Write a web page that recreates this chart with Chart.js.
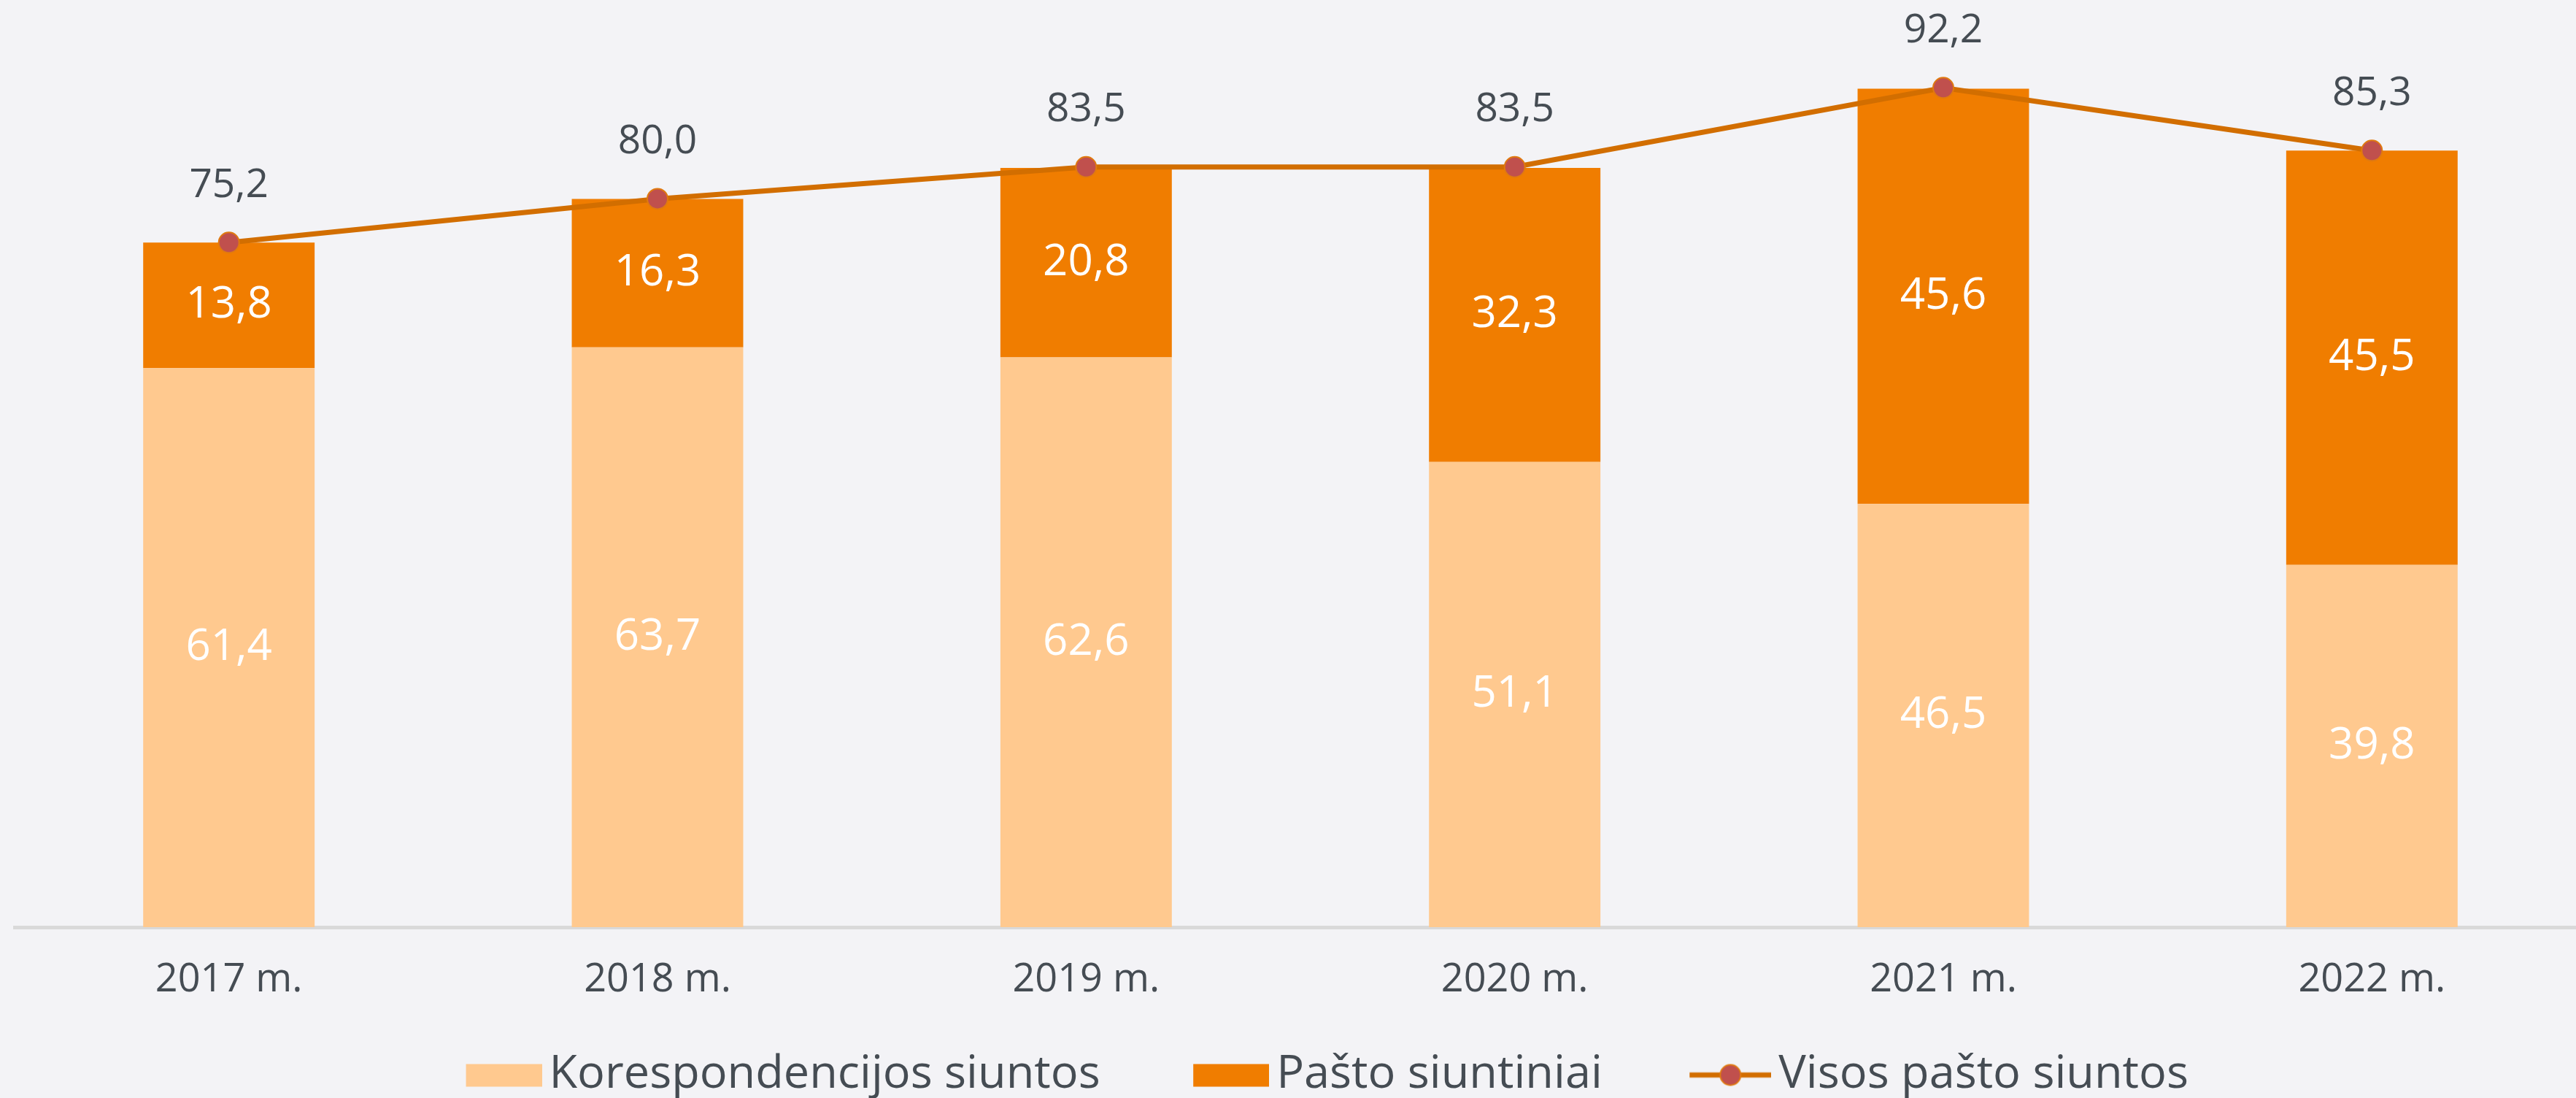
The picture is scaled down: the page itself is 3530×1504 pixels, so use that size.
<!DOCTYPE html>
<html>
<head>
<meta charset="utf-8">
<script src="https://cdn.jsdelivr.net/npm/chart.js@4"></script>
<style>
  html, body { margin: 0; padding: 0; background: #f3f3f6; overflow: hidden; }
  canvas { display: block; }
</style>
</head>
<body>
<canvas id="siuntosChart" width="3560" height="1504"></canvas>
<script>
const years = ['2017 m.', '2018 m.', '2019 m.', '2020 m.', '2021 m.', '2022 m.'];
const korespondencija = [61.4, 63.7, 62.6, 51.1, 46.5, 39.8];
const siuntiniai = [13.8, 16.3, 20.8, 32.3, 45.6, 45.5];
const visos = [75.2, 80.0, 83.5, 83.5, 92.2, 85.3];
const seriesNames = ['Korespondencijos siuntos', 'Pašto siuntiniai', 'Visos pašto siuntos'];

const lightOrange = '#ffc98f';
const darkOrange = '#f07d00';
const lineColor = '#d26e00';
const pointFill = '#c0504d';
const pointEdge = '#e07a10';
const textColor = '#454c53';

Chart.defaults.font.family = '"Open Sans", "Noto Sans", sans-serif';

const fmt = v => v.toFixed(1).replace('.', ',');

// legend icons: wider than the box, drawn at the right so they sit close to the text
const ICON_W = 185, ICON_H = 34;
function makeIcon(kind, color) {
  const cv = document.createElement('canvas');
  cv.width = ICON_W;
  cv.height = ICON_H;
  const c = cv.getContext('2d');
  if (kind === 'line') {
    const x0 = ICON_W - 112;
    c.strokeStyle = lineColor;
    c.lineWidth = 7;
    c.beginPath();
    c.moveTo(x0, 17);
    c.lineTo(ICON_W, 17);
    c.stroke();
    c.beginPath();
    c.arc(x0 + 56, 17, 14, 0, Math.PI * 2);
    c.fillStyle = pointFill;
    c.fill();
    c.lineWidth = 2;
    c.strokeStyle = pointEdge;
    c.stroke();
  } else {
    c.fillStyle = color;
    c.fillRect(ICON_W - 104, 2, 104, 31);
  }
  return cv;
}

const valueLabels = {
  id: 'valueLabels',
  afterDatasetsDraw(chart) {
    const ctx = chart.ctx;
    ctx.save();
    ctx.textAlign = 'center';
    ctx.textBaseline = 'middle';
    chart.data.datasets.forEach((ds, i) => {
      const meta = chart.getDatasetMeta(i);
      meta.data.forEach((el, j) => {
        const v = ds.data[j];
        if (ds.type === 'line') {
          ctx.font = '55px ' + Chart.defaults.font.family;
          ctx.fillStyle = textColor;
          ctx.fillText(fmt(v), el.x, el.y - 78);
        } else {
          ctx.font = '60px ' + Chart.defaults.font.family;
          ctx.fillStyle = '#ffffff';
          ctx.fillText(fmt(v), el.x, (el.y + el.base) / 2);
        }
      });
    });
    ctx.restore();
  }
};

const siuntosChart = new Chart(document.getElementById('siuntosChart'), {
  data: {
    labels: years,
    datasets: [{
      type: 'bar',
      label: seriesNames[0],
      data: korespondencija,
      backgroundColor: lightOrange,
      stack: 'bars',
      order: 1
    }, {
      type: 'bar',
      label: seriesNames[1],
      data: siuntiniai,
      backgroundColor: darkOrange,
      stack: 'bars',
      order: 1
    }, {
      type: 'line',
      label: seriesNames[2],
      data: visos,
      borderColor: lineColor,
      borderWidth: 7,
      pointRadius: 14,
      pointBackgroundColor: pointFill,
      pointBorderColor: pointEdge,
      pointBorderWidth: 2,
      stack: 'line',
      order: 0,
      tension: 0
    }]
  },
  options: {
    responsive: false,
    animation: false,
    devicePixelRatio: 1,
    layout: { padding: { top: 23, left: 20, right: 2, bottom: 0 } },
    datasets: {
      bar: { categoryPercentage: 1, barPercentage: 0.4 }
    },
    scales: {
      x: {
        stacked: true,
        grid: { display: false },
        border: { display: true, color: '#d9d9d9', width: 5 },
        ticks: { color: textColor, font: { size: 54 }, padding: 32 },
        afterFit(scale) { scale.height = 103; }
      },
      y: {
        stacked: true,
        display: false,
        min: 0,
        max: 100
      }
    },
    plugins: {
      tooltip: { enabled: false },
      legend: {
        position: 'bottom',
        maxHeight: 131,
        labels: {
          usePointStyle: true,
          pointStyleWidth: 142,
          boxHeight: 31,
          padding: 68,
          color: textColor,
          font: { size: 63 },
          generateLabels(chart) {
            return chart.data.datasets.map((ds, i) => ({
              text: ds.label,
              fillStyle: ds.type === 'line' ? pointFill : ds.backgroundColor,
              strokeStyle: 'transparent',
              lineWidth: 0,
              pointStyle: makeIcon(ds.type, ds.backgroundColor),
              fontColor: textColor,
              datasetIndex: i,
              hidden: false
            }));
          }
        }
      }
    }
  },
  plugins: [valueLabels]
});
</script>
</body>
</html>
